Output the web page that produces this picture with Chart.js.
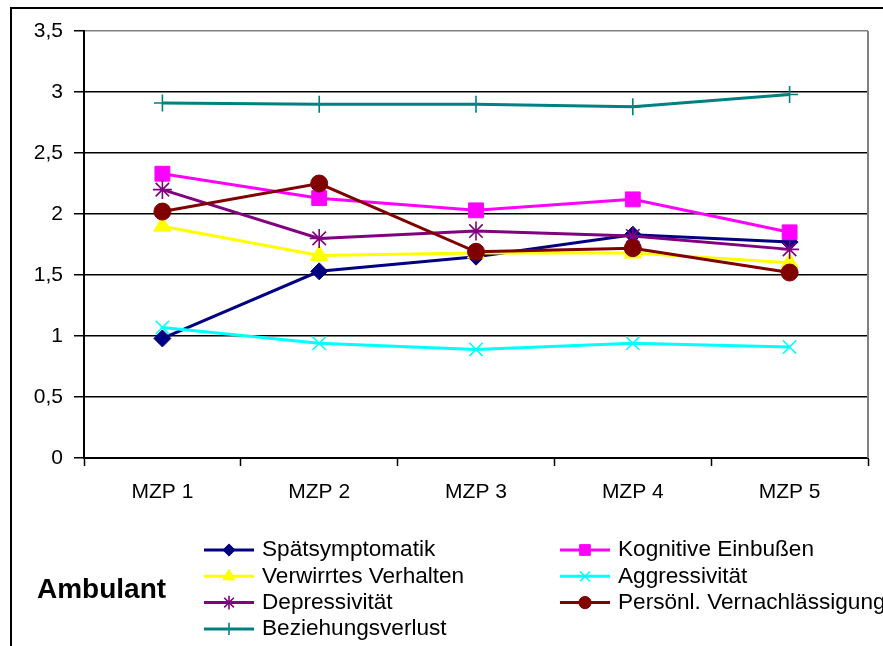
<!DOCTYPE html>
<html lang="de">
<head>
  <meta charset="UTF-8">
  <title>Ambulant</title>
  <script src="https://cdn.jsdelivr.net/npm/chart.js"></script>
  <style>
    body { margin: 0; background: #fff; }
    canvas { display: block; }
  </style>
</head>
<body>
  <canvas id="chart" width="883" height="646"></canvas>
  <script>
    const categories = ['MZP 1', 'MZP 2', 'MZP 3', 'MZP 4', 'MZP 5'];
    const yTicks = [0, 0.5, 1, 1.5, 2, 2.5, 3, 3.5];

    const spaetsymptomatik = [0.98, 1.53, 1.65, 1.83, 1.77];
    const kognitiveEinbussen = [2.33, 2.13, 2.03, 2.12, 1.85];
    const verwirrtesVerhalten = [1.90, 1.66, 1.68, 1.68, 1.60];
    const aggressivitaet = [1.07, 0.94, 0.89, 0.94, 0.91];
    const depressivitaet = [2.20, 1.80, 1.86, 1.82, 1.71];
    const vernachlaessigung = [2.02, 2.25, 1.69, 1.72, 1.52];
    const beziehungsverlust = [2.91, 2.90, 2.90, 2.88, 2.98];

    const seriesNames = ['Spätsymptomatik', 'Kognitive Einbußen', 'Verwirrtes Verhalten', 'Aggressivität',
      'Depressivität', 'Persönl. Vernachlässigung', 'Beziehungsverlust'];
    const seriesValues = [spaetsymptomatik, kognitiveEinbussen, verwirrtesVerhalten, aggressivitaet,
      depressivitaet, vernachlaessigung, beziehungsverlust];

    const colors = ['#000080', '#ff00ff', '#ffff00', '#00ffff', '#800080', '#800000', '#008080'];
    const markers = ['rectRot', 'rect', 'triangle', 'crossRot', 'star', 'circle', 'cross'];
    const markerSize = [8.5, 10.5, 10, 9.5, 9.5, 8.5, 8.5];

    const FONT = '"Liberation Sans", Arial, sans-serif';

    const datasets = seriesNames.map((name, i) => {
      const thin = ['crossRot', 'star', 'cross'].includes(markers[i]);
      return {
        label: name,
        data: seriesValues[i],
        borderColor: colors[i],
        backgroundColor: colors[i],
        borderWidth: 3,
        pointStyle: markers[i],
        pointRadius: markerSize[i],
        pointBorderWidth: thin ? 1.6 : 1,
        pointBackgroundColor: colors[i],
        pointBorderColor: colors[i],
        tension: 0,
        fill: false,
        order: seriesNames.length - i
      };
    });

    // frame, plot border, title text and legend
    const decorations = {
      id: 'decorations',
      beforeDatasetsDraw(chart) {
        const { ctx, chartArea } = chart;
        ctx.save();
        ctx.strokeStyle = '#808080';
        ctx.lineWidth = 2;
        ctx.beginPath();
        ctx.moveTo(chartArea.right, chartArea.top);
        ctx.lineTo(chartArea.right, chartArea.bottom);
        ctx.stroke();
        ctx.restore();
      },
      afterDraw(chart) {
        const { ctx } = chart;
        ctx.save();
        ctx.strokeStyle = '#000';
        ctx.lineWidth = 2;
        ctx.strokeRect(11, 8, 900, 700);

        ctx.fillStyle = '#000';
        ctx.font = 'bold 28px ' + FONT;
        ctx.textBaseline = 'alphabetic';
        ctx.fillText('Ambulant', 37, 598);

        ctx.font = '22.6px ' + FONT;
        ctx.textBaseline = 'middle';
        chart.data.datasets.forEach((ds, i) => {
          const col = i % 2;
          const row = Math.floor(i / 2);
          const x0 = col === 0 ? 204 : 560;
          const y = 550 + row * 26.3;
          ctx.strokeStyle = ds.borderColor;
          ctx.lineWidth = 3;
          ctx.beginPath();
          ctx.moveTo(x0, y);
          ctx.lineTo(x0 + 50, y);
          ctx.stroke();
          ctx.fillStyle = ds.pointBackgroundColor;
          ctx.strokeStyle = ds.pointBorderColor;
          ctx.lineWidth = ds.pointBorderWidth;
          Chart.helpers.drawPoint(ctx, {
            pointStyle: ds.pointStyle,
            radius: ds.pointRadius * 0.72,
            borderWidth: ds.pointBorderWidth,
            rotation: 0
          }, x0 + 25, y);
          ctx.fillStyle = '#000';
          ctx.fillText(ds.label, x0 + 58, y);
        });
        ctx.restore();
      }
    };

    new Chart(document.getElementById('chart'), {
      type: 'line',
      data: { labels: categories, datasets: datasets },
      plugins: [decorations],
      options: {
        responsive: false,
        animation: false,
        layout: { padding: { left: 0, top: 31, right: 15, bottom: 0 } },
        plugins: {
          legend: { display: false },
          tooltip: { enabled: false }
        },
        scales: {
          x: {
            offset: true,
            afterFit(scale) { scale.height = 188; },
            grid: {
              offset: true,
              drawOnChartArea: false,
              drawTicks: true,
              tickLength: 8,
              tickColor: '#000',
              tickWidth: 1.5
            },
            border: { color: '#000', width: 2 },
            ticks: {
              color: '#000',
              padding: 14,
              maxRotation: 0,
              font: { family: FONT, size: 21 }
            }
          },
          y: {
            min: 0,
            max: 3.5,
            afterFit(scale) { scale.width = 84; },
            afterBuildTicks(scale) { scale.ticks = yTicks.map(v => ({ value: v })); },
            grid: {
              color: ctx => (ctx.tick && ctx.tick.value === 3.5 ? '#808080' : '#000'),
              lineWidth: 1.5,
              tickLength: 10,
              tickColor: '#000',
              tickWidth: 1.5
            },
            border: { color: '#000', width: 2 },
            ticks: {
              color: '#000',
              padding: 11,
              font: { family: FONT, size: 21 },
              callback: v => String(v).replace('.', ',')
            }
          }
        }
      }
    });
  </script>
</body>
</html>
